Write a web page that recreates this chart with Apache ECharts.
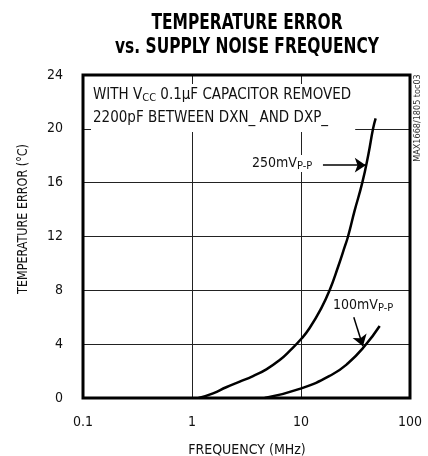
<!DOCTYPE html>
<html><head><meta charset="utf-8">
<script src="https://cdn.jsdelivr.net/npm/echarts@6/dist/echarts.min.js"></script>
<style>html,body{margin:0;padding:0;background:#fff}#c{width:428px;height:456px}</style>
</head><body><div id="c"></div>
<script>
const FONT = '"Liberation Sans Narrow","DejaVu Sans Condensed","Roboto Condensed",sans-serif';
const xTicks = [0.1, 1, 10, 100];
const yTicks = [0, 4, 8, 12, 16, 20, 24];
const series250 = [[1.15,0],[1.56,0.35],[2.06,0.8],[2.74,1.21],[3.63,1.63],[4.81,2.13],[6.38,2.82],[7.88,3.5],[10.07,4.4],[12.0,5.2],[15.4,6.7],[18.3,8.0],[21.9,9.75],[25.2,11.24],[27.0,12.0],[31.0,13.9],[36.5,16.0],[41.5,18.1],[45.8,20.0],[48.4,20.78]];
const series100 = [[4.64,0],[10.07,0.72],[19.0,1.71],[27.0,2.58],[38.4,3.86],[52.7,5.35]];
const arrow250 = [[15.9,17.3],[39.3,17.3]];
const arrow100 = [[30.5,6.0],[37.0,3.85]];

const chart = echarts.init(document.getElementById('c'));
chart.setOption({
  animation:false,
  backgroundColor:'#fff',
  textStyle:{fontFamily:FONT},
  grid:{left:83,right:18,top:75,bottom:58,show:true,borderColor:'#000',borderWidth:3,z:3},
  xAxis:{type:'log',logBase:10,min:xTicks[0],max:xTicks[xTicks.length-1],
    axisLine:{show:false},axisTick:{show:false},
    splitLine:{show:true,lineStyle:{color:'#222',width:1}},
    axisLabel:{color:'#111',fontSize:14,fontFamily:FONT,margin:17,formatter:v=>String(+v)}},
  yAxis:{type:'value',min:yTicks[0],max:yTicks[yTicks.length-1],interval:4,
    axisLine:{show:false},axisTick:{show:false},
    splitLine:{show:true,lineStyle:{color:'#222',width:1}},
    axisLabel:{color:'#111',fontSize:14,fontFamily:FONT,margin:20}},
  series:[
    {type:'line',data:series250,smooth:0.5,showSymbol:false,lineStyle:{color:'#000',width:2.5},z:4,silent:true,
     markLine:{silent:true,symbol:['none','arrow'],symbolSize:11,label:{show:false},
       emphasis:{disabled:true},
       lineStyle:{color:'#000',width:1.5,type:'solid'},
       data:[[{coord:arrow250[0]},{coord:arrow250[1]}],[{coord:arrow100[0]},{coord:arrow100[1]}]]}},
    {type:'line',data:series100,smooth:0.5,showSymbol:false,lineStyle:{color:'#000',width:2.5},z:4,silent:true}
  ],
  graphic:[
    {type:'text',x:247,y:23,scaleX:0.78,style:{text:'TEMPERATURE ERROR',font:'900 22px '+FONT,fill:'#000',textAlign:'center',textVerticalAlign:'middle'}},
    {type:'text',x:247,y:47,scaleX:0.78,style:{text:'vs. SUPPLY NOISE FREQUENCY',font:'900 22px '+FONT,fill:'#000',textAlign:'center',textVerticalAlign:'middle'}},
    {type:'text',x:91,y:84,z:2,style:{
      text:'WITH V{s|CC} 0.1µF CAPACITOR REMOVED\n2200pF BETWEEN DXN_ AND DXP_',
      font:'15px '+FONT,fill:'#111',lineHeight:23,backgroundColor:'#fff',padding:[0,4,2,2],
      rich:{s:{fontSize:11,fontFamily:FONT,fill:'#111',padding:[6,0,0,0]}}}},
    {type:'text',x:252,y:155,z:2,style:{text:'250mV{s|P-P}',font:'14px '+FONT,fill:'#111',backgroundColor:'#fff',padding:[0,3,0,0],
      rich:{s:{fontSize:11,fontFamily:FONT,fill:'#111',padding:[6,0,0,0]}}}},
    {type:'text',x:333,y:297,z:2,style:{text:'100mV{s|P-P}',font:'14px '+FONT,fill:'#111',
      rich:{s:{fontSize:11,fontFamily:FONT,fill:'#111',padding:[6,0,0,0]}}}},
    {type:'text',x:23,y:219,rotation:Math.PI/2,scaleX:0.89,style:{text:'TEMPERATURE ERROR (°C)',font:'14px '+FONT,fill:'#111',textAlign:'center',textVerticalAlign:'middle'}},
    {type:'text',x:247,y:450,style:{text:'FREQUENCY (MHz)',font:'14px '+FONT,fill:'#111',textAlign:'center',textVerticalAlign:'middle'}},
    {type:'text',x:418,y:118,rotation:Math.PI/2,style:{text:'MAX1668/1805 toc03',font:'9px '+FONT,fill:'#333',textAlign:'center',textVerticalAlign:'middle'}}
  ]
});
</script></body></html>
